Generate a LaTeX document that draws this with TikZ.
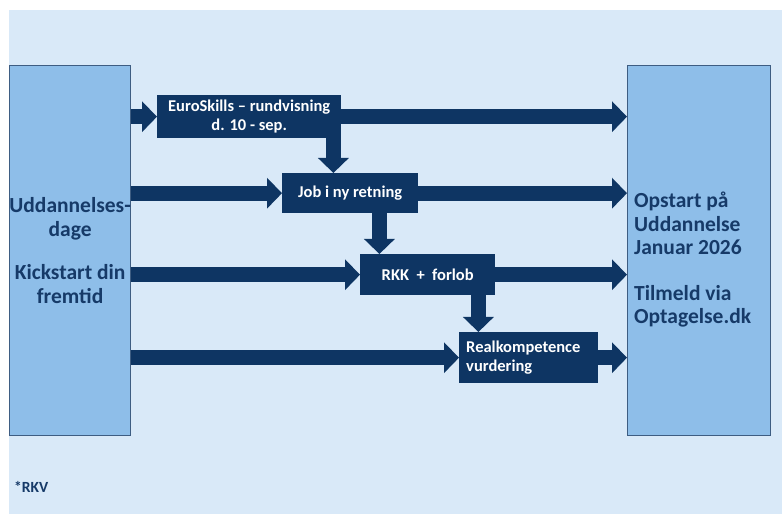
\documentclass[tikz,border=0pt]{standalone}
\usepackage{fontspec}
\setmainfont{Carlito}
\usetikzlibrary{arrows.meta}

\definecolor{bg}{HTML}{D9E9F8}
\definecolor{boxblue}{HTML}{8EBEE9}
\definecolor{navy}{HTML}{0E3563}
\definecolor{ink}{HTML}{163A68}

\tikzset{
	bigbox/.style={draw=navy!80, line width=0.8pt, fill=boxblue, anchor=north west, inner sep=0pt},
	tbox/.style={fill=navy, text=white, font=\fontsize{16.5}{19}\selectfont\bfseries, anchor=north west, inner sep=0pt, align=center},
	flow/.style={navy, line width=15pt, -{Triangle[width=30pt,length=15pt]}},
	bigtext/.style={text=ink, font=\fontsize{21.5}{23.5}\selectfont\bfseries, inner sep=0pt}
}

\begin{document}
\begin{tikzpicture}[x=1pt, y=-1pt]

	\useasboundingbox (0,0) rectangle (782,521);
	\fill [bg] (9,10) rectangle (782,514);

	\node [bigbox, minimum width=121pt, minimum height=370pt, bigtext, align=center] (edu) at (9,65) {Uddannelses-\\dage\\[20pt]Kickstart din\\fremtid};
	\node [bigbox, minimum width=143pt, minimum height=370pt] (start) at (627,65) {};
	\node [bigtext, anchor=west, align=left] (starttxt) at (634,260) {Opstart på\\Uddannelse\\Januar 2026\\[22pt]Tilmeld via\\Optagelse.dk};

	\node [tbox, minimum width=184pt, minimum height=43pt] (euro) at (157,95) {EuroSkills -- rundvisning\\d. 10 - sep.};
	\node [tbox, minimum width=136pt, minimum height=40pt] (job) at (282,173) {Job i ny retning};
	\node [tbox, minimum width=135pt, minimum height=41pt] (rkk) at (360,254) {RKK\ \ +\ \ forlob};
	\node [tbox, minimum width=139pt, minimum height=51pt, align=left, text width=125pt] (real) at (459,332) {Realkompetence\\vurdering};

	\draw [flow] (edu.east |- euro.west) -- (euro.west);
	\draw [flow] (edu.east |- job.west) -- (job.west);
	\draw [flow] (edu.east |- rkk.west) -- (rkk.west);
	\draw [flow] (edu.east |- real.west) -- (real.west);

	\draw [flow] (euro.east) -- (euro.east -| start.west);
	\draw [flow] (job.east) -- (job.east -| start.west);
	\draw [flow] (rkk.east) -- (rkk.east -| start.west);
	\draw [flow] (real.east) -- (real.east -| start.west);

	\draw [flow] ([xshift=-8pt]euro.south east) -- ([xshift=-8pt]euro.south east |- job.north);
	\draw [flow] ([xshift=-39pt]job.south east) -- ([xshift=-39pt]job.south east |- rkk.north);
	\draw [flow] ([xshift=-17pt]rkk.south east) -- ([xshift=-17pt]rkk.south east |- real.north);

	\node [text=ink, font=\fontsize{15.5}{17}\selectfont\bfseries, anchor=west, inner sep=0pt] (note) at (14,487) {*RKV};

\end{tikzpicture}
\end{document}
